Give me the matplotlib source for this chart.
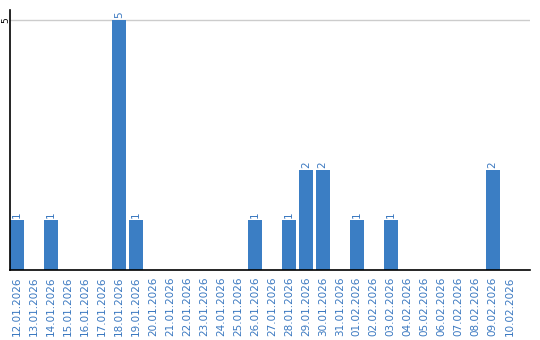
import matplotlib
matplotlib.use('Agg')
import matplotlib.pyplot as plt

# days from 12.01.2026 to 10.02.2026
dates = ['12.01.2026', '13.01.2026', '14.01.2026', '15.01.2026', '16.01.2026',
         '17.01.2026', '18.01.2026', '19.01.2026', '20.01.2026', '21.01.2026',
         '22.01.2026', '23.01.2026', '24.01.2026', '25.01.2026', '26.01.2026',
         '27.01.2026', '28.01.2026', '29.01.2026', '30.01.2026', '31.01.2026',
         '01.02.2026', '02.02.2026', '03.02.2026', '04.02.2026', '05.02.2026',
         '06.02.2026', '07.02.2026', '08.02.2026', '09.02.2026', '10.02.2026']
counts = [1, 0, 1, 0, 0, 0, 5, 1, 0, 0,
          0, 0, 0, 0, 1, 0, 1, 2, 2, 0,
          1, 0, 1, 0, 0, 0, 0, 0, 2, 0]

barColor = '#3b7ec4'
textColor = '#3a78c0'

fig = plt.figure(figsize=(5.4, 3.4), dpi=100)
ax = fig.add_axes([10/540, 70/340, 520/540, 260/340])

x = list(range(len(dates)))
ax.bar(x, counts, width=0.82, color=barColor, zorder=2)
for xi, c in zip(x, counts):
  if c > 0:
    ax.text(xi, c + 0.04, str(c), rotation=90, ha='center', va='bottom',
            fontsize=7.5, color=textColor)

ax.set_xlim(-0.41, 30.2)
ax.set_ylim(0, 5.2)
ax.set_xticks(x)
ax.set_xticklabels(dates, rotation=90, fontsize=7.5, color=textColor)
ax.set_yticks([5])
ax.set_yticklabels(['5'], rotation=90, fontsize=6.5, va='center')
ax.tick_params(axis='x', length=0, pad=5)
ax.tick_params(axis='y', length=0, pad=0)
ax.axhline(5, color='#cccccc', linewidth=1, zorder=1)
for s in ['top', 'right']:
  ax.spines[s].set_visible(False)
ax.spines['left'].set_linewidth(1.2)
ax.spines['bottom'].set_linewidth(1.2)

plt.savefig('out.png', dpi=100)
